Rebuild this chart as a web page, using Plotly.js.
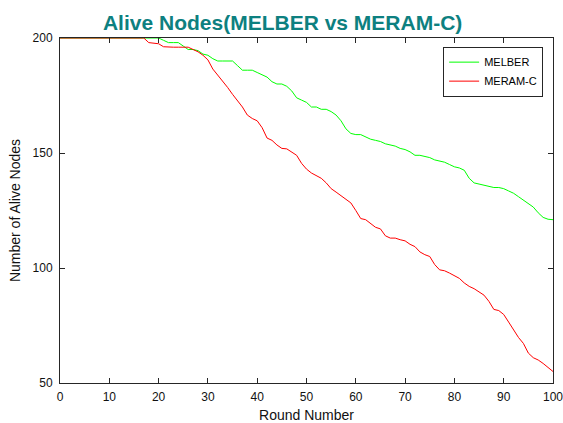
<!DOCTYPE html>
<html>
<head>
<meta charset="utf-8">
<script src="https://cdn.plot.ly/plotly-3.0.1.min.js"></script>
<style>html,body{margin:0;padding:0;background:#fff;}#chart{width:563px;height:423px;}</style>
</head>
<body>
<div id="chart"></div>
<script>
const rounds = Array.from({length: 101}, (_, i) => i);
const melber = [
200,200,200,200,200,200,200,200,200,200,
200,200,200,200,200,200,200,200,200,200,
200,199,198,198,198,196.5,195,195,194.5,193,
192.5,191,190,190,190,190,188,186,186,186,
185,184,183,181,180,180,179,177,174,173,
172,170,170,169,169,168,166.5,164,160.5,158.5,
158,158,157,156,155.5,155,154,153.5,153,152,
151.5,150.5,149,149,148.5,148,147,146.5,146,145,
144,143.5,142.5,139,137,136.5,136,135.5,135,135,
134.5,133.5,132.5,131,129.5,128,126.5,124,122,121.2,
121];
const meramc = [
200,200,200,200,200,200,200,200,200,200,
200,200,200,200,200,200,200,200,198,197.7,
197.5,196.2,196,196,196,196,196,195,194,192.5,
190.5,186.5,184,181.5,178.5,175.5,173,170,166.5,165,
164,161,156.5,155.5,153.5,152,151.8,150.5,149,145.5,
143,141.3,140,139,137,134.5,133,131.5,130,128.3,
125,121.5,121,119.5,117.7,117,114,113,113,112.3,
111.8,110.3,109.3,107,105.8,105,101.5,99.2,98.8,97.8,
96.8,95.5,93.5,92,91,89.5,88.2,85.5,82,81.5,
79.8,76.5,73,69.8,67.2,63,61,60,58.5,56.8,
55];
const xTicks = [0,10,20,30,40,50,60,70,80,90,100];
const yTicks = [50,100,150,200];

const traces = [
  {x: rounds, y: melber, name: 'MELBER', mode: 'lines', line: {color: '#00ff00', width: 1}},
  {x: rounds, y: meramc, name: 'MERAM-C', mode: 'lines', line: {color: '#ff0000', width: 1}}
];
const fam = 'Liberation Sans, Arial, sans-serif';
const axisCommon = {
  showgrid: false, zeroline: false, showline: true, mirror: 'ticks',
  linecolor: '#262626', linewidth: 1, ticks: 'inside', ticklen: 5, tickcolor: '#262626',
  tickfont: {family: fam, size: 12, color: '#111'}
};
const layout = {
  width: 563, height: 423,
  margin: {l: 60, r: 10, t: 38, b: 40},
  paper_bgcolor: '#fff', plot_bgcolor: '#fff',
  title: {text: '<b>Alive Nodes(MELBER vs MERAM-C)</b>', x: 0.502, xanchor: 'center', y: 0.946, yanchor: 'middle',
          font: {family: fam, size: 21, color: '#0d8080'}},
  xaxis: Object.assign({}, axisCommon, {range: [0, 100], tickvals: xTicks, ticklabeloverflow: 'allow', ticklabelstandoff: 3,
          title: {text: 'Round Number', standoff: 6, font: {family: fam, size: 14, color: '#111'}}}),
  yaxis: Object.assign({}, axisCommon, {range: [50, 200], tickvals: yTicks, ticklabelstandoff: 4,
          title: {text: 'Number of Alive Nodes', standoff: 8, font: {family: fam, size: 14, color: '#111'}}}),
  showlegend: true,
  legend: {x: 0.98, y: 0.975, xanchor: 'right', yanchor: 'top', bgcolor: '#fff', bordercolor: '#262626', borderwidth: 1,
           font: {family: fam, size: 11, color: '#000'}, tracegroupgap: 0}
};
Plotly.newPlot('chart', traces, layout, {displayModeBar: false, staticPlot: true});
</script>
</body>
</html>
